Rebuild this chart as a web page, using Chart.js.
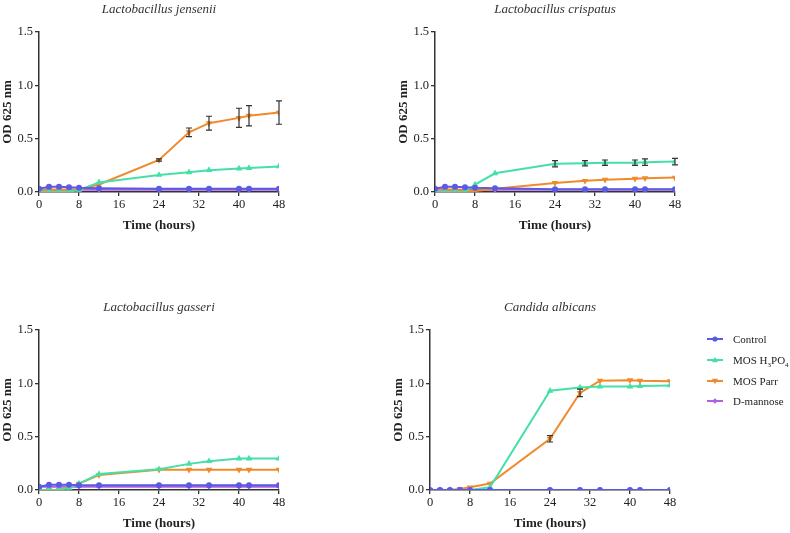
<!DOCTYPE html>
<html>
<head>
<meta charset="utf-8">
<script src="https://cdn.jsdelivr.net/npm/chart.js@4"></script>
<style>
  body { margin: 0; background: #fff; width: 790px; height: 533px; position: relative; overflow: hidden; font-family: "Liberation Serif", serif; }
  .panel { position: absolute; width: 318px; height: 240px; }
  .legend { position: absolute; left: 707px; top: 329px; font-size: 11px; color: #222; white-space: nowrap; }
  .legend div { height: 20.7px; display: flex; align-items: center; }
  .legend svg { margin-right: 10px; flex: none; }
</style>
</head>
<body>
<div class="panel" style="left:0;top:1px"><canvas id="c1"></canvas></div>
<div class="panel" style="left:396px;top:1px"><canvas id="c2"></canvas></div>
<div class="panel" style="left:0;top:299px"><canvas id="c3"></canvas></div>
<div class="panel" style="left:391px;top:299px"><canvas id="c4"></canvas></div>
<div class="legend" id="legend"></div>
<script>
// sampling times (hours)
const times = [0, 2, 4, 6, 8, 12, 24, 30, 34, 40, 42, 48];
const xTicks = [0, 8, 16, 24, 32, 40, 48];
const yTicks = [0, 0.5, 1.0, 1.5];
const seriesNames = ['Control', 'MOS H\u2083PO\u2084', 'MOS Parr', 'D-mannose'];

// Lactobacillus jensenii
const jenseniiControl = [0.03, 0.05, 0.05, 0.045, 0.04, 0.035, 0.03, 0.03, 0.03, 0.03, 0.03, 0.03];
const jenseniiH3PO4   = [0.0, 0.0, 0.0, 0.0, 0.02, 0.09, 0.16, 0.185, 0.205, 0.22, 0.225, 0.24];
const jenseniiParr    = [0.02, 0.02, 0.02, 0.02, 0.02, 0.07, 0.30, 0.56, 0.645, 0.695, 0.715, 0.745];
const jenseniiParrErr = [0, 0, 0, 0, 0, 0, 0.01, 0.04, 0.065, 0.09, 0.095, 0.11];
const jenseniiMannose = [0.02, 0.02, 0.02, 0.02, 0.02, 0.02, 0.02, 0.02, 0.02, 0.02, 0.02, 0.02];

// Lactobacillus crispatus
const crispatusControl = [0.03, 0.05, 0.05, 0.045, 0.04, 0.035, 0.025, 0.025, 0.025, 0.025, 0.025, 0.025];
const crispatusH3PO4   = [0.0, 0.0, 0.0, 0.0, 0.07, 0.175, 0.265, 0.27, 0.275, 0.275, 0.28, 0.285];
const crispatusH3PO4Err = [0, 0, 0, 0, 0, 0, 0.03, 0.025, 0.025, 0.025, 0.03, 0.03];
const crispatusParr    = [0.03, 0.02, 0.02, 0.01, 0.01, 0.03, 0.085, 0.105, 0.115, 0.125, 0.13, 0.135];
const crispatusMannose = [0.02, 0.02, 0.02, 0.02, 0.02, 0.02, 0.02, 0.02, 0.02, 0.02, 0.02, 0.02];

// Lactobacillus gasseri
const gasseriControl = [0.03, 0.05, 0.05, 0.05, 0.045, 0.045, 0.045, 0.045, 0.045, 0.045, 0.045, 0.045];
const gasseriH3PO4   = [0.0, 0.0, 0.0, 0.02, 0.06, 0.15, 0.195, 0.245, 0.27, 0.295, 0.295, 0.295];
const gasseriParr    = [0.0, 0.0, 0.0, 0.03, 0.06, 0.14, 0.19, 0.19, 0.19, 0.19, 0.19, 0.19];
const gasseriMannose = [0.03, 0.03, 0.03, 0.03, 0.03, 0.03, 0.03, 0.03, 0.03, 0.03, 0.03, 0.03];

// Candida albicans
const albicansControl = [0, 0, 0, 0, 0, 0, 0, 0, 0, 0, 0, 0];
const albicansH3PO4   = [0.0, 0.0, 0.0, 0.0, 0.0, 0.025, 0.93, 0.96, 0.97, 0.97, 0.975, 0.98];
const albicansParr    = [0.0, 0.0, 0.0, 0.01, 0.025, 0.06, 0.48, 0.91, 1.025, 1.03, 1.025, 1.02];
const albicansParrErr = [0, 0, 0, 0, 0, 0, 0.03, 0.035, 0, 0, 0, 0];
const albicansMannose = [0, 0, 0, 0, 0, 0, 0, 0, 0, 0, 0, 0];

const colors = ['#5a5ae6', '#45e0a5', '#f08a2c', '#b060e0'];
const markers = ['circle', 'triangle', 'triangle', 'rectRot'];
const rotations = [0, 0, 180, 0];
const radii = [3, 3.8, 3.8, 2.8];

//draw error bars from the errors stored on each dataset
const errorBars = {
    id: 'errorBars',
    afterDatasetsDraw(chart) {
        const ctx = chart.ctx;
        const ys = chart.scales.y;
        chart.data.datasets.forEach((ds, i) => {
            if (!ds.errors) return;
            const meta = chart.getDatasetMeta(i);
            ctx.save();
            ctx.strokeStyle = '#333';
            ctx.lineWidth = 1.2;
            ds.data.forEach((p, j) => {
                const e = ds.errors[j];
                if (!e) return;
                const x = meta.data[j].x;
                const top = ys.getPixelForValue(p.y + e);
                const bot = ys.getPixelForValue(p.y - e);
                ctx.beginPath();
                ctx.moveTo(x, top); ctx.lineTo(x, bot);
                ctx.moveTo(x - 3, top); ctx.lineTo(x + 3, top);
                ctx.moveTo(x - 3, bot); ctx.lineTo(x + 3, bot);
                ctx.stroke();
            });
            ctx.restore();
        });
    }
};

function makeChart(id, title, series, errs) {
    const datasets = series.map((vals, i) => ({
        label: seriesNames[i],
        data: times.map((t, j) => ({ x: t, y: vals[j] })),
        errors: errs[i],
        borderColor: colors[i],
        backgroundColor: colors[i],
        borderWidth: 2,
        pointStyle: markers[i],
        rotation: rotations[i],
        pointRadius: radii[i],
        pointBorderWidth: 0,
        tension: 0
    }));
    return new Chart(document.getElementById(id), {
        type: 'line',
        data: { datasets: datasets },
        options: {
            responsive: true,
            maintainAspectRatio: false,
            animation: false,
            layout: { padding: { left: 0, right: 39, top: 0, bottom: 0 } },
            plugins: {
                legend: { display: false },
                tooltip: { enabled: false },
                title: {
                    display: true,
                    fullSize: false,
                    text: title,
                    color: '#333',
                    font: { family: 'Liberation Serif', size: 13, style: 'italic', weight: 'normal' },
                    padding: { top: 1, bottom: 14.4 }
                }
            },
            scales: {
                x: {
                    type: 'linear',
                    min: 0, max: 48,
                    afterBuildTicks: s => { s.ticks = xTicks.map(v => ({ value: v })); },
                    afterFit: s => { s.height = 49; },
                    grid: { display: true, drawOnChartArea: false, drawTicks: true, tickLength: 4, color: '#333', lineWidth: 1.3 },
                    border: { display: true, color: '#333', width: 1.5 },
                    ticks: { color: '#222', padding: 1, maxRotation: 0, font: { family: 'Liberation Serif', size: 12.5 } },
                    title: { display: true, text: 'Time (hours)', color: '#222', padding: { top: 0, bottom: 8 }, font: { family: 'Liberation Serif', size: 13, weight: 'bold' } }
                },
                y: {
                    min: 0, max: 1.5,
                    afterBuildTicks: s => { s.ticks = yTicks.map(v => ({ value: v })); },
                    afterFit: s => { s.width = 39; },
                    grid: { display: true, drawOnChartArea: false, drawTicks: true, tickLength: 4, color: '#333', lineWidth: 1.3 },
                    border: { display: true, color: '#333', width: 1.5 },
                    ticks: { color: '#222', padding: 2, callback: v => v.toFixed(1), font: { family: 'Liberation Serif', size: 12.5 } },
                    title: { display: true, text: 'OD 625 nm', color: '#222', padding: 0, font: { family: 'Liberation Serif', size: 13, weight: 'bold' } }
                }
            }
        },
        plugins: [errorBars]
    });
}

makeChart('c1', 'Lactobacillus jensenii',
    [jenseniiControl, jenseniiH3PO4, jenseniiParr, jenseniiMannose], [null, null, jenseniiParrErr, null]);
makeChart('c2', 'Lactobacillus crispatus',
    [crispatusControl, crispatusH3PO4, crispatusParr, crispatusMannose], [null, crispatusH3PO4Err, null, null]);
makeChart('c3', 'Lactobacillus gasseri',
    [gasseriControl, gasseriH3PO4, gasseriParr, gasseriMannose], [null, null, null, null]);
makeChart('c4', 'Candida albicans',
    [albicansControl, albicansH3PO4, albicansParr, albicansMannose], [null, null, albicansParrErr, null]);

//legend built from the series names and styles
const legendLabels = ['Control', 'MOS H<sub>3</sub>PO<sub>4</sub>', 'MOS Parr', 'D-mannose'];
const legendShapes = [
    '<circle cx="8" cy="5" r="2.6"/>',
    '<polygon points="8,1.8 11,7.2 5,7.2"/>',
    '<polygon points="8,8.2 11,2.8 5,2.8"/>',
    '<polygon points="8,2.2 10.8,5 8,7.8 5.2,5"/>'
];
document.getElementById('legend').innerHTML = legendLabels.map((lab, i) =>
    '<div><svg width="16" height="10"><line x1="0" y1="5" x2="16" y2="5" stroke="' + colors[i] +
    '" stroke-width="2"/><g fill="' + colors[i] + '">' + legendShapes[i] + '</g></svg>' +
    '<span>' + lab.replace(/<sub>/g, '<sub style="font-size:7px;line-height:0">') + '</span></div>'
).join('');
</script>
</body>
</html>
